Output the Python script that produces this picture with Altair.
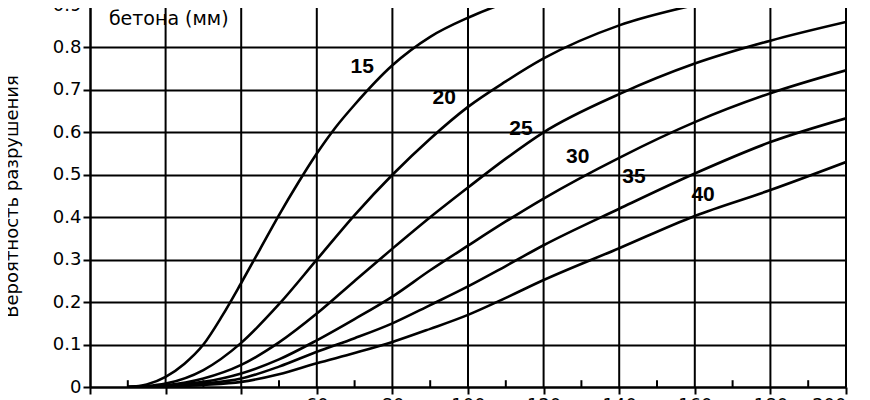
import altair as alt
import pandas as pd

# Cover thickness (mm) curves: failure probability vs X
x15 = [10, 15, 20, 25, 30, 35, 40, 45, 50, 55, 60, 65, 70, 80, 90, 100, 110, 120, 140, 160, 180, 200]
p15 = [0, 0.006, 0.024, 0.055, 0.10, 0.168, 0.245, 0.325, 0.405, 0.48, 0.55, 0.612, 0.665, 0.758, 0.825, 0.87, 0.905, 0.93, 0.96, 0.98, 0.99, 0.995]
xc = [10, 15, 20, 30, 40, 50, 60, 70, 80, 90, 100, 110, 120, 140, 160, 180, 200]
p20 = [0, 0.002, 0.008, 0.04, 0.104, 0.195, 0.30, 0.405, 0.50, 0.585, 0.66, 0.72, 0.774, 0.852, 0.90, 0.935, 0.96]
p25 = [0, 0.001, 0.004, 0.02, 0.052, 0.105, 0.173, 0.25, 0.326, 0.40, 0.47, 0.538, 0.60, 0.69, 0.762, 0.816, 0.86]
p30 = [0, 0.001, 0.003, 0.012, 0.032, 0.065, 0.11, 0.16, 0.213, 0.275, 0.333, 0.39, 0.444, 0.54, 0.624, 0.692, 0.746]
p35 = [0, 0.0005, 0.002, 0.008, 0.02, 0.048, 0.083, 0.115, 0.15, 0.193, 0.237, 0.285, 0.334, 0.42, 0.503, 0.577, 0.633]
p40 = [0, 0.0003, 0.001, 0.005, 0.012, 0.03, 0.056, 0.08, 0.106, 0.137, 0.17, 0.21, 0.252, 0.327, 0.403, 0.464, 0.53]
thickness = ["15", "20", "25", "30", "35", "40"]
series_x = [x15, xc, xc, xc, xc, xc]
series_p = [p15, p20, p25, p30, p35, p40]

label_x = [72, 93.7, 114, 129, 143.9, 162.2]
label_y = [0.753, 0.682, 0.609, 0.541, 0.494, 0.452]

title_lines = ["Толщина защитного слоя", "бетона (мм)"]
title_y = [0.913, 0.868]

grid_x = list(range(20, 201, 20))
minor_x = list(range(10, 200, 20))
x_tick_vals = list(range(0, 201, 10))
y_tick_vals = [0, 0.1, 0.2, 0.3, 0.4, 0.5, 0.6, 0.7, 0.8, 0.9]

rows = []
for name, xs_, ps_ in zip(thickness, series_x, series_p):
    for xv, yv in zip(xs_, ps_):
        rows.append({"t": name, "x": xv, "p": yv})
df = pd.DataFrame(rows)
lab_df = pd.DataFrame({"t": thickness, "x": label_x, "p": label_y})
tit_df = pd.DataFrame({"txt": title_lines, "x": [5, 5], "p": title_y})
grid_df = pd.DataFrame({"x": grid_x})
minor_df = pd.DataFrame({"x": minor_x})

FONT = "Liberation Sans"
WIDE = "DejaVu Sans"
xs = alt.Scale(domain=[0, 200], nice=False)
ys = alt.Scale(domain=[0, 0.9], nice=False)

base_x_axis = alt.Axis(
    values=x_tick_vals, grid=False, tickSize=7, tickWidth=2, tickColor="black",
    domainColor="black", domainWidth=2, labelFont=WIDE, labelFontSize=18,
    labelColor="black", labelPadding=2,
    labelExpr="datum.value >= 60 && datum.value % 20 == 0 ? format(datum.value, 'd') : ''",
    title=None,
)
base_y_axis = alt.Axis(
    values=y_tick_vals, grid=True, gridColor="black", gridWidth=2, gridOpacity=1,
    tickSize=7, tickWidth=2, tickColor="black", domainColor="black", domainWidth=2.5,
    labelFont=WIDE, labelFontSize=18, labelColor="black", labelPadding=2,
    labelExpr="datum.value == 0 ? '0' : format(datum.value, '.1f')",
    title="Вероятность разрушения", titleFont=WIDE, titleFontSize=18,
    titleFontWeight="normal", titleColor="black", titlePadding=31,
)

vgrid = alt.Chart(grid_df).mark_rule(color="black", strokeWidth=2).encode(
    x=alt.X("x:Q", scale=xs, axis=base_x_axis),
    y=alt.datum(0, scale=ys, axis=base_y_axis),
    y2=alt.datum(0.9),
)
minor = alt.Chart(minor_df).mark_rule(color="black", strokeWidth=2).encode(
    x=alt.X("x:Q", scale=xs),
    y=alt.datum(0),
    y2=alt.datum(0.016),
)
lines = alt.Chart(df).mark_line(
    clip=True, color="black", strokeWidth=2.6, interpolate="monotone"
).encode(
    x=alt.X("x:Q", scale=xs),
    y=alt.Y("p:Q", scale=ys),
    detail="t:N",
)
labels = alt.Chart(lab_df).mark_text(
    font=FONT, fontSize=21, fontWeight="bold", color="black"
).encode(
    x=alt.X("x:Q", scale=xs),
    y=alt.Y("p:Q", scale=ys),
    text="t:N",
)
title_txt = alt.Chart(tit_df).mark_text(
    font=WIDE, fontSize=19, color="black", align="left", baseline="middle"
).encode(
    x=alt.X("x:Q", scale=xs),
    y=alt.Y("p:Q", scale=ys),
    text="txt:N",
)

chart = alt.layer(vgrid, minor, lines, labels, title_txt).properties(
    width=756,
    height=382,
    autosize=alt.AutoSizeParams(type="none"),
    padding={"left": 82, "top": -3, "right": 16, "bottom": 30},
).configure_view(stroke=None).configure(background="white")

chart.save("out.html", embed_options={"renderer": "svg", "actions": False})
